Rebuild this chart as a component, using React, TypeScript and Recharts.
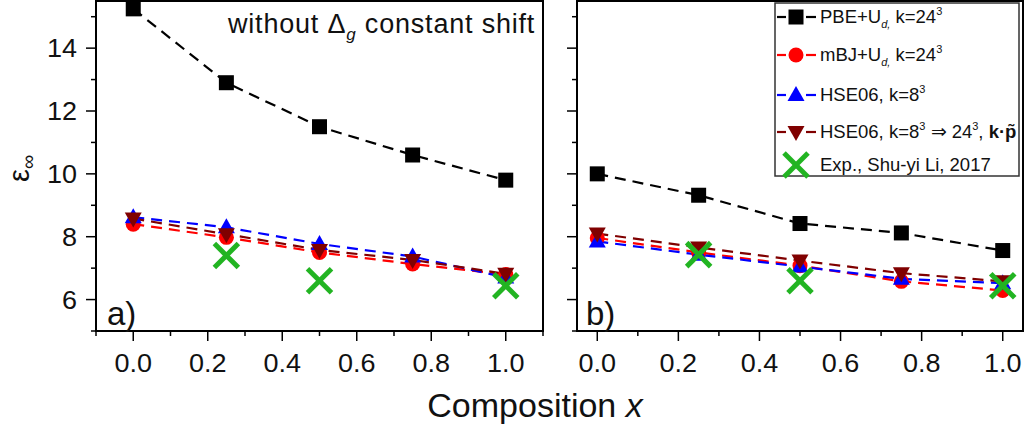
import { ComposedChart, Line, Scatter, XAxis, YAxis, ReferenceArea } from "recharts";

const compX = [0, 0.25, 0.5, 0.75, 1.0];
const expX = [0.25, 0.5, 1.0];

// a) without constant shift
const pbeA = [15.25, 12.9, 11.5, 10.6, 9.8];
const mbjA = [8.4, 7.98, 7.5, 7.13, 6.8];
const hseA = [8.62, 8.3, 7.77, 7.37, 6.7];
const hseKpA = [8.58, 8.08, 7.58, 7.26, 6.82];
const expA = [7.4, 6.6, 6.44];

// b)
const pbeB = [10.0, 9.32, 8.42, 8.12, 7.56];
const mbjB = [7.96, 7.5, 7.08, 6.58, 6.29];
const hseB = [7.85, 7.43, 7.05, 6.66, 6.52];
const hseKpB = [8.1, 7.66, 7.24, 6.84, 6.58];
const expB = [7.43, 6.6, 6.44];

const yTicks = [5, 6, 7, 8, 9, 10, 11, 12, 13, 14, 15];
const yMajor = [6, 8, 10, 12, 14];
const xTicksA = [-0.1, 0, 0.1, 0.2, 0.3, 0.4, 0.5, 0.6, 0.7, 0.8, 0.9, 1.0, 1.1];
const xTicksB = [0, 0.1, 0.2, 0.3, 0.4, 0.5, 0.6, 0.7, 0.8, 0.9, 1.0];
const xMajor = [0, 0.2, 0.4, 0.6, 0.8, 1.0];

const FONT = "'Liberation Sans', Arial, sans-serif";
const GREEN = "#22b422";
const WINE = "#800000";

const pts = (xs: number[], ys: number[]) => xs.map((x, i) => ({ x, y: ys[i] }));

const Square = ({ cx, cy }: any) => <rect x={cx - 7.5} y={cy - 7.5} width={15} height={15} fill="#000" />;
const Circle = ({ cx, cy }: any) => <circle cx={cx} cy={cy} r={7.5} fill="#ff0000" />;
const TriUp = ({ cx, cy }: any) => (
  <polygon points={`${cx},${cy - 9} ${cx + 8.5},${cy + 6} ${cx - 8.5},${cy + 6}`} fill="#0000ff" />
);
const TriDown = ({ cx, cy }: any) => (
  <polygon points={`${cx - 8.5},${cy - 6} ${cx + 8.5},${cy - 6} ${cx},${cy + 9}`} fill={WINE} />
);
const XMark = ({ cx, cy }: any) => (
  <g stroke={GREEN} strokeWidth={5}>
    <line x1={cx - 12} y1={cy - 12} x2={cx + 12} y2={cy + 12} />
    <line x1={cx - 12} y1={cy + 12} x2={cx + 12} y2={cy - 12} />
  </g>
);

const dotOf = (Shape: any) => (p: any) =>
  p.cx == null || p.cy == null ? <g key={p.index} /> : <Shape key={p.index} cx={p.cx} cy={p.cy} />;

function YTick({ x, y, payload, showLabel }: any) {
  const major = yMajor.includes(payload.value);
  return (
    <g>
      <line x1={x - (major ? 10 : 5)} y1={y} x2={x} y2={y} stroke="#000" strokeWidth={1.5} />
      {major && showLabel && (
        <text transform={`translate(${x - 19},${y}) scale(1.08,1)`} dy="0.36em" textAnchor="end" fontSize={25} fontFamily={FONT} fill="#111">
          {payload.value}
        </text>
      )}
    </g>
  );
}

function XTick({ x, y, payload }: any) {
  const major = xMajor.includes(payload.value);
  return (
    <g>
      <line x1={x} y1={y} x2={x} y2={y + (major ? 10 : 5)} stroke="#000" strokeWidth={1.5} />
      {major && (
        <text transform={`translate(${x},${y + 41}) scale(1.08,1)`} textAnchor="middle" fontSize={25} fontFamily={FONT} fill="#111">
          {payload.value.toFixed(1)}
        </text>
      )}
    </g>
  );
}

const dash = "11 7";

function Panel({ left, width, yw, mr, xDomain, xTicks, yLabels, pbe, mbj, hse, hseKp, exp }: any) {
  return (
    <div style={{ position: "absolute", left, top: 0 }}>
      <ComposedChart width={width} height={380} margin={{ top: 1, right: mr, bottom: 0, left: 0 }}>
        <XAxis
          dataKey="x"
          type="number"
          domain={xDomain}
          ticks={xTicks}
          interval={0}
          tickSize={0}
          tickMargin={0}
          height={49}
          allowDataOverflow
          axisLine={{ stroke: "#000", strokeWidth: 2 }}
          tick={(p: any) => <XTick {...p} />}
        />
        <YAxis
          dataKey="y"
          type="number"
          domain={[5, 15.5]}
          ticks={yTicks}
          interval={0}
          tickSize={0}
          tickMargin={0}
          width={yw}
          allowDataOverflow
          axisLine={{ stroke: "#000", strokeWidth: 2 }}
          tick={(p: any) => <YTick {...p} showLabel={yLabels} />}
        />
        <ReferenceArea x1={xDomain[0]} x2={xDomain[1]} y1={5} y2={15.5} fill="none" fillOpacity={0} stroke="#000" strokeWidth={2} />
        <Line data={pts(compX, pbe)} dataKey="y" type="linear" stroke="#000" strokeWidth={2.2} strokeDasharray={dash} dot={dotOf(Square)} isAnimationActive={false} />
        <Line data={pts(compX, mbj)} dataKey="y" type="linear" stroke="#ff0000" strokeWidth={2.2} strokeDasharray={dash} dot={dotOf(Circle)} isAnimationActive={false} />
        <Line data={pts(compX, hse)} dataKey="y" type="linear" stroke="#0000ff" strokeWidth={2.2} strokeDasharray={dash} dot={dotOf(TriUp)} isAnimationActive={false} />
        <Line data={pts(compX, hseKp)} dataKey="y" type="linear" stroke={WINE} strokeWidth={2.2} strokeDasharray={dash} dot={dotOf(TriDown)} isAnimationActive={false} />
        <Scatter data={pts(expX, exp)} dataKey="y" shape={(p: any) => <XMark cx={p.cx} cy={p.cy} />} isAnimationActive={false} />
      </ComposedChart>
    </div>
  );
}

const legendRows = [
  { y: 17, Shape: Square, color: "#000" },
  { y: 55, Shape: Circle, color: "#ff0000" },
  { y: 95, Shape: TriUp, color: "#0000ff" },
  { y: 132, Shape: TriDown, color: WINE },
  { y: 165, Shape: XMark, color: null },
];

export default function App() {
  return (
    <div style={{ position: "absolute", left: 0, top: 0, width: 1029, height: 431, background: "#fff", fontFamily: FONT }}>
      <Panel left={0} width={560} yw={96} mr={17} xDomain={[-0.1, 1.1]} xTicks={xTicksA} yLabels pbe={pbeA} mbj={mbjA} hse={hseA} hseKp={hseKpA} exp={expA} />
      <Panel left={540} width={489} yw={37} mr={6} xDomain={[-0.05, 1.05]} xTicks={xTicksB} yLabels={false} pbe={pbeB} mbj={mbjB} hse={hseB} hseKp={hseKpB} exp={expB} />
      <svg width={1029} height={431} style={{ position: "absolute", left: 0, top: 0, pointerEvents: "none" }} fontFamily={FONT}>
        <text transform="translate(29,182) rotate(-90)" fontSize={29} fill="#111">
          ε<tspan fontSize={20} dy={6}>∞</tspan>
        </text>
        <text x={535} y={417} textAnchor="middle" fontSize={34} fill="#111">
          Composition <tspan fontStyle="italic">x</tspan>
        </text>
        <text x={228} y={33} fontSize={27} letterSpacing={0.8} fill="#111" style={{ whiteSpace: "pre" }}>
          without Δ<tspan fontSize={17} fontStyle="italic" dy={7}>g</tspan>
          <tspan dy={-7}> constant shift</tspan>
        </text>
        <text x={107} y={325} fontSize={33} fill="#111">a)</text>
        <text x={586} y={325} fontSize={33} fill="#111">b)</text>

        <rect x={775} y={3} width={244} height={173} fill="#fff" stroke="#333" strokeWidth={1.5} />
        {legendRows.map((r) => (
          <g key={r.y}>
            {r.color && (
              <g stroke={r.color} strokeWidth={2.2}>
                <line x1={777} y1={r.y} x2={786} y2={r.y} />
                <line x1={806} y1={r.y} x2={816} y2={r.y} />
              </g>
            )}
            <r.Shape cx={796} cy={r.y} />
          </g>
        ))}
        <g fontSize={18.5} fill="#111" style={{ whiteSpace: "pre" }}>
          <text x={820} y={23}>
            PBE+U<tspan fontSize={11} fontStyle="italic" dy={5}>d,</tspan>
            <tspan dy={-5}> k=24</tspan>
            <tspan fontSize={11} dy={-8}>3</tspan>
          </text>
          <text x={820} y={61}>
            mBJ+U<tspan fontSize={11} fontStyle="italic" dy={5}>d,</tspan>
            <tspan dy={-5}> k=24</tspan>
            <tspan fontSize={11} dy={-8}>3</tspan>
          </text>
          <text x={820} y={101}>
            HSE06, k=8<tspan fontSize={11} dy={-8}>3</tspan>
          </text>
          <text x={820} y={138}>
            HSE06, k=8<tspan fontSize={11} dy={-8}>3</tspan>
            <tspan dy={8}> ⇒ 24</tspan>
            <tspan fontSize={11} dy={-8}>3</tspan>
            <tspan dy={8}>, </tspan>
            <tspan fontWeight="bold">k·p̃</tspan>
          </text>
          <text x={820} y={171}>Exp., Shu-yi Li, 2017</text>
        </g>
      </svg>
    </div>
  );
}
